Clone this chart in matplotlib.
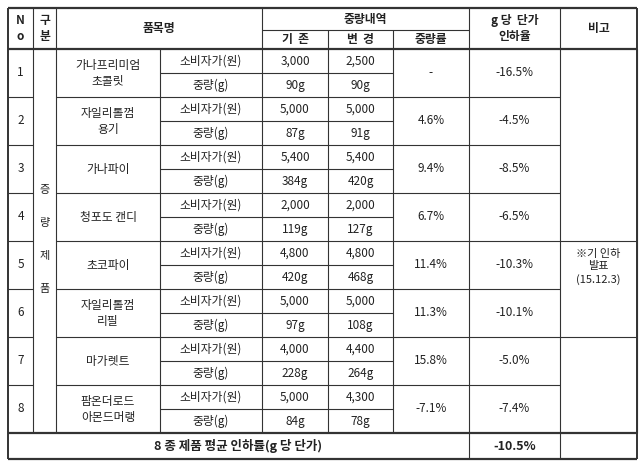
import matplotlib
matplotlib.use("Agg")
import matplotlib.pyplot as plt

plt.rcParams['font.family'] = ['Noto Sans CJK KR', 'DejaVu Sans']

nos = ["1", "2", "3", "4", "5", "6", "7", "8"]
names = ["가나프리미엄\n초콜릿", "자일리톨껌\n용기", "가나파이", "청포도 캔디",
         "초코파이", "자일리톨껌\n리필", "마가렛트", "팜온더로드\n아몬드머랭"]
price_old = ["3,000", "5,000", "5,400", "2,000", "4,800", "5,000", "4,000", "5,000"]
price_new = ["2,500", "5,000", "5,400", "2,000", "4,800", "5,000", "4,400", "4,300"]
weight_old = ["90g", "87g", "384g", "119g", "420g", "97g", "228g", "84g"]
weight_new = ["90g", "91g", "420g", "127g", "468g", "108g", "264g", "78g"]
weight_rate = ["-", "4.6%", "9.4%", "6.7%", "11.4%", "11.3%", "15.8%", "-7.1%"]
unit_cut = ["-16.5%", "-4.5%", "-8.5%", "-6.5%", "-10.3%", "-10.1%", "-5.0%", "-7.4%"]
avg_label = "8 종 제품 평균 인하률(g 당 단가)"
avg_cut = "-10.5%"
note = "※기 인하\n발표\n(15.12.3)"

W, H = 640, 475
fig = plt.figure(figsize=(6.4, 4.75), dpi=100)
ax = fig.add_axes([0, 0, 1, 1])
ax.set_xlim(0, W)
ax.set_ylim(H, 0)
ax.axis("off")

xs = [8, 33, 56, 160, 262, 328, 393, 469, 560, 637]
top, hsplit, hbot = 8, 30, 49
rh = 48
rows = [hbot + i * rh for i in range(9)]
bot = rows[-1] + 26
FS = 8.5
lc = "#333333"


def line(x0, y0, x1, y1, lw=0.8):
    ax.plot([x0, x1], [y0, y1], color=lc, lw=lw, solid_capstyle="butt")


def txt(x, y, s, **kw):
    kw.setdefault("fontsize", FS)
    ax.text(x, y, s, ha="center", va="center", color="#222222",
            linespacing=1.3, **kw)


def mid(a, b):
    return (a + b) / 2


# outer border and thick separators
line(xs[0], top, xs[-1], top, 1.6)
line(xs[0], bot, xs[-1], bot, 1.6)
line(xs[0], top, xs[0], bot, 1.4)
line(xs[-1], top, xs[-1], bot, 1.4)
line(xs[0], hbot, xs[-1], hbot, 1.6)
line(xs[0], rows[-1], xs[-1], rows[-1], 1.6)

# header
line(xs[4], hsplit, xs[7], hsplit)
for x in [xs[1], xs[2], xs[4], xs[7], xs[8]]:
    line(x, top, x, hbot)
for x in [xs[5], xs[6]]:
    line(x, hsplit, x, hbot)
txt(mid(xs[0], xs[1]), mid(top, hbot), "N\no", fontweight="bold")
txt(mid(xs[1], xs[2]), mid(top, hbot), "구\n분", fontweight="bold")
txt(mid(xs[2], xs[4]), mid(top, hbot), "품목명", fontweight="bold")
txt(mid(xs[4], xs[7]), mid(top, hsplit), "중량내역", fontweight="bold")
txt(mid(xs[4], xs[5]), mid(hsplit, hbot), "기  존", fontweight="bold")
txt(mid(xs[5], xs[6]), mid(hsplit, hbot), "변  경", fontweight="bold")
txt(mid(xs[6], xs[7]), mid(hsplit, hbot), "중량률", fontweight="bold")
txt(mid(xs[7], xs[8]), mid(top, hbot), "g 당  단가\n인하율", fontweight="bold")
txt(mid(xs[8], xs[9]), mid(top, hbot), "비고", fontweight="bold")

# body
for x in xs[1:]:
    line(x, hbot, x, rows[-1])
line(xs[7], rows[-1], xs[7], bot)
line(xs[8], rows[-1], xs[8], bot)
for i in range(len(nos)):
    y0, y1 = rows[i], rows[i + 1]
    ym = mid(y0, y1)
    if i > 0:
        line(xs[0], y0, xs[1], y0)
        line(xs[2], y0, xs[8], y0)
    line(xs[3], ym, xs[6], ym)
    txt(mid(xs[0], xs[1]), ym, nos[i])
    txt(mid(xs[2], xs[3]), ym, names[i])
    txt(mid(xs[3], xs[4]), mid(y0, ym), "소비자가(원)")
    txt(mid(xs[3], xs[4]), mid(ym, y1), "중량(g)")
    txt(mid(xs[4], xs[5]), mid(y0, ym), price_old[i])
    txt(mid(xs[5], xs[6]), mid(y0, ym), price_new[i])
    txt(mid(xs[4], xs[5]), mid(ym, y1), weight_old[i])
    txt(mid(xs[5], xs[6]), mid(ym, y1), weight_new[i])
    txt(mid(xs[6], xs[7]), ym, weight_rate[i])
    txt(mid(xs[7], xs[8]), ym, unit_cut[i])

# 비고 merged blocks: rows 1-4, 5-6, 7-8
line(xs[8], rows[4], xs[9], rows[4])
line(xs[8], rows[6], xs[9], rows[6])
txt(mid(xs[8], xs[9]), rows[4] + 26, note, fontsize=8)

# category column
for k, ch in enumerate(["증", "량", "제", "품"]):
    txt(mid(xs[1], xs[2]), 190 + k * 33, ch, fontsize=8)

# total row
txt(mid(xs[0], xs[7]), mid(rows[-1], bot), avg_label, fontweight="bold", fontsize=9)
txt(mid(xs[7], xs[8]), mid(rows[-1], bot), avg_cut, fontweight="bold", fontsize=9)

fig.savefig("out.png", dpi=100)
